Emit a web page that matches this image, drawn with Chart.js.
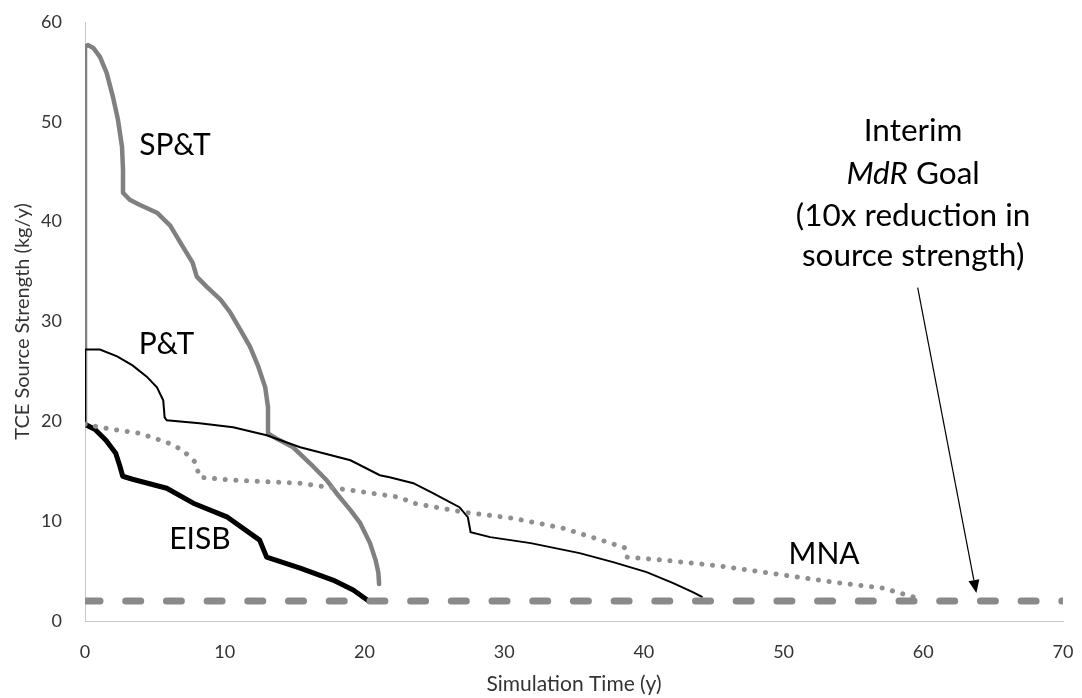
<!DOCTYPE html>
<html>
<head>
<meta charset="utf-8">
<title>TCE Source Strength</title>
<script src="https://cdn.jsdelivr.net/npm/chart.js@4.4.1/dist/chart.umd.min.js"></script>
<style>
  html, body { margin: 0; padding: 0; background: #ffffff; }
  canvas { display: block; }
</style>
</head>
<body>
<canvas id="chart" width="1082" height="698"></canvas>
<script>
// Source strength histories (kg/y) against simulation time (y) for each remedy.
const sptTime     = [0, 0, 0.2, 0.6, 1.07, 1.55, 2.0, 2.36, 2.65, 2.72, 2.72, 3.2, 3.9, 5.15, 6.1, 7.0, 7.7, 8.0, 8.7, 9.7, 10.4, 11.1, 11.8, 12.4, 12.9, 13.1, 13.1, 13.8, 14.9, 16.1, 17.3, 18.0, 19.0, 19.7, 20.4, 20.8, 21.0, 21.05];
const sptStrength = [19.7, 57.5, 57.7, 57.4, 56.5, 54.9, 52.5, 50.2, 47.5, 45.2, 42.9, 42.2, 41.7, 40.9, 39.6, 37.5, 35.9, 34.5, 33.5, 32.2, 30.9, 29.2, 27.5, 25.5, 23.4, 21.4, 18.8, 18.2, 17.4, 15.8, 14.1, 12.8, 11.1, 9.8, 7.8, 6.1, 4.8, 3.7];

const ptTime      = [0, 0, 1.07, 2.3, 3.4, 4.4, 5.15, 5.6, 5.7, 5.85, 8.2, 10.6, 13.0, 15.4, 19.0, 21.1, 21.8, 23.5, 24.9, 26.8, 27.4, 27.6, 29.0, 31.9, 35.4, 37.8, 40.2, 42.1, 43.5, 44.2];
const ptStrength  = [19.7, 27.2, 27.2, 26.5, 25.6, 24.5, 23.4, 22.1, 20.4, 20.1, 19.8, 19.4, 18.6, 17.4, 16.1, 14.6, 14.4, 13.8, 12.8, 11.4, 10.4, 8.9, 8.4, 7.8, 6.8, 5.9, 4.9, 3.8, 2.9, 2.4];

const eisbTime     = [0, 0.7, 1.5, 2.2, 2.5, 2.7, 3.4, 5.85, 7.75, 10.2, 12.5, 13.0, 15.4, 17.75, 19.2, 20.2];
const eisbStrength = [19.7, 19.2, 18.1, 16.8, 15.5, 14.5, 14.2, 13.3, 11.8, 10.4, 8.1, 6.4, 5.3, 4.1, 3.1, 2.1];

const mnaTime     = [0, 1.5, 3.9, 5.85, 7.0, 7.9, 8.2, 10.6, 15.4, 19.0, 22.5, 23.5, 27.1, 30.6, 34.2, 37.4, 38.7, 38.8, 41.4, 45.5, 50.0, 53.5, 57.1, 59.3, 60.0];
const mnaStrength = [19.7, 19.3, 18.8, 17.9, 17.1, 15.9, 14.4, 14.1, 13.8, 13.1, 12.4, 11.8, 10.9, 10.3, 9.3, 7.9, 7.3, 6.4, 6.1, 5.5, 4.6, 3.9, 3.3, 2.4, 2.2];

// Interim MdR goal: a 10x reduction in source strength.
const goalTime     = [0, 70];
const goalStrength = [2, 2];

// Axis ranges and tick labels.
const xTicks = [0, 10, 20, 30, 40, 50, 60, 70];
const yTicks = [0, 10, 20, 30, 40, 50, 60];

// In-plot labels: [text, time, strength].
const seriesLabels = [
  ['SP&T', 6.44, 47.5],
  ['P&T', 5.83, 27.65],
  ['EISB', 8.23, 8.1],
  ['MNA', 52.9, 6.6]
];

const toPoints = (xs, ys) => xs.map((x, i) => ({ x: x, y: ys[i] }));

const FONT = 'Lato, "Open Sans", "DejaVu Sans", sans-serif';
const TEXT_LIFT = 1; // px: centres capitals on the anchor

// Series names, the goal callout and its arrow.
const annotationPlugin = {
  id: 'annotations',
  afterDatasetsDraw(chart) {
    const { ctx, scales: { x, y } } = chart;
    const py = (v) => y.getPixelForValue(v) - TEXT_LIFT;
    ctx.save();
    ctx.fillStyle = '#000000';
    ctx.textAlign = 'center';
    ctx.textBaseline = 'middle';
    ctx.font = '30px ' + FONT;
    seriesLabels.forEach(([text, tx, ty]) => {
      ctx.fillText(text, x.getPixelForValue(tx), py(ty));
    });

    // Goal callout text
    const size = 31.5;
    const italic = 'italic ' + size + 'px ' + FONT;
    const upright = size + 'px ' + FONT;
    const cx = x.getPixelForValue(59.27);
    ctx.font = upright;
    ctx.fillText('Interim', cx, py(49.0));
    // Second line mixes italic and upright
    ctx.font = italic;
    const w1 = ctx.measureText('MdR').width;
    ctx.font = upright;
    const w2 = ctx.measureText(' Goal').width;
    const startX = cx - (w1 + w2) / 2;
    const ly = py(44.7);
    ctx.textAlign = 'left';
    ctx.font = italic;
    ctx.fillText('MdR', startX, ly);
    ctx.font = upright;
    ctx.fillText(' Goal', startX + w1, ly);
    ctx.textAlign = 'center';
    ctx.fillText('(10x reduction in', cx, py(40.5));
    ctx.fillText('source strength)', cx, py(36.5));

    // Arrow to the goal line
    const x0 = x.getPixelForValue(59.6), y0 = y.getPixelForValue(33.4);
    const x1 = x.getPixelForValue(63.8), y1 = y.getPixelForValue(2.8);
    const ang = Math.atan2(y1 - y0, x1 - x0);
    const headLen = 13, headW = 5.5;
    const bx = x1 - headLen * Math.cos(ang), by = y1 - headLen * Math.sin(ang);
    ctx.strokeStyle = '#000000';
    ctx.lineWidth = 1.2;
    ctx.beginPath();
    ctx.moveTo(x0, y0);
    ctx.lineTo(bx, by);
    ctx.stroke();
    ctx.beginPath();
    ctx.moveTo(x1, y1);
    ctx.lineTo(bx + headW * Math.sin(ang), by - headW * Math.cos(ang));
    ctx.lineTo(bx - headW * Math.sin(ang), by + headW * Math.cos(ang));
    ctx.closePath();
    ctx.fill();
    ctx.restore();
  }
};

const lineStyle = { pointRadius: 0, pointHoverRadius: 0, tension: 0, fill: false, borderJoinStyle: 'round', borderCapStyle: 'round' };

new Chart(document.getElementById('chart'), {
  type: 'line',
  data: {
    datasets: [
      Object.assign({ label: 'Interim MdR Goal', data: toPoints(goalTime, goalStrength), borderColor: '#8a8a8a', borderWidth: 7, borderDash: [15, 25.7] }, lineStyle),
      Object.assign({ label: 'MNA', data: toPoints(mnaTime, mnaStrength), borderColor: '#8f8f8f', borderWidth: 5, borderDash: [0.1, 10.6] }, lineStyle),
      Object.assign({ label: 'P&T', data: toPoints(ptTime, ptStrength), borderColor: '#000000', borderWidth: 2 }, lineStyle, { borderJoinStyle: 'miter', borderCapStyle: 'butt' }),
      Object.assign({ label: 'SP&T', data: toPoints(sptTime, sptStrength), borderColor: '#808080', borderWidth: 4.5 }, lineStyle),
      Object.assign({ label: 'EISB', data: toPoints(eisbTime, eisbStrength), borderColor: '#000000', borderWidth: 5 }, lineStyle)
    ]
  },
  options: {
    responsive: false,
    animation: false,
    events: [],
    layout: { padding: { left: 0, right: 19, top: 22, bottom: 0 } },
    plugins: { legend: { display: false }, tooltip: { enabled: false } },
    scales: {
      x: {
        type: 'linear',
        min: xTicks[0],
        max: xTicks[xTicks.length - 1],
        afterBuildTicks: (s) => { s.ticks = xTicks.map(v => ({ value: v })); },
        afterFit: (s) => { s.height = 77; s.paddingLeft = 0; s.paddingRight = 0; },
        grid: { display: false, drawTicks: false },
        border: { display: true, color: '#c8c8c8', width: 1 },
        ticks: { padding: 20, color: '#333333', font: { family: FONT, size: 18 } },
        title: { display: true, text: 'Simulation Time (y)', color: '#333333', font: { family: FONT, size: 21 }, padding: { top: 0, bottom: 1 } }
      },
      y: {
        type: 'linear',
        min: yTicks[0],
        max: yTicks[yTicks.length - 1],
        afterBuildTicks: (s) => { s.ticks = yTicks.map(v => ({ value: v })); },
        afterFit: (s) => { s.width = 85; s.paddingTop = 0; s.paddingBottom = 0; },
        grid: { display: false, drawTicks: false },
        border: { display: true, color: '#c8c8c8', width: 1 },
        ticks: { padding: 23, color: '#333333', font: { family: FONT, size: 18 } },
        title: { display: true, text: 'TCE Source Strength (kg/y)', color: '#333333', font: { family: FONT, size: 20 }, padding: { top: 11, bottom: 0 } }
      }
    }
  },
  plugins: [annotationPlugin]
});
</script>
</body>
</html>
